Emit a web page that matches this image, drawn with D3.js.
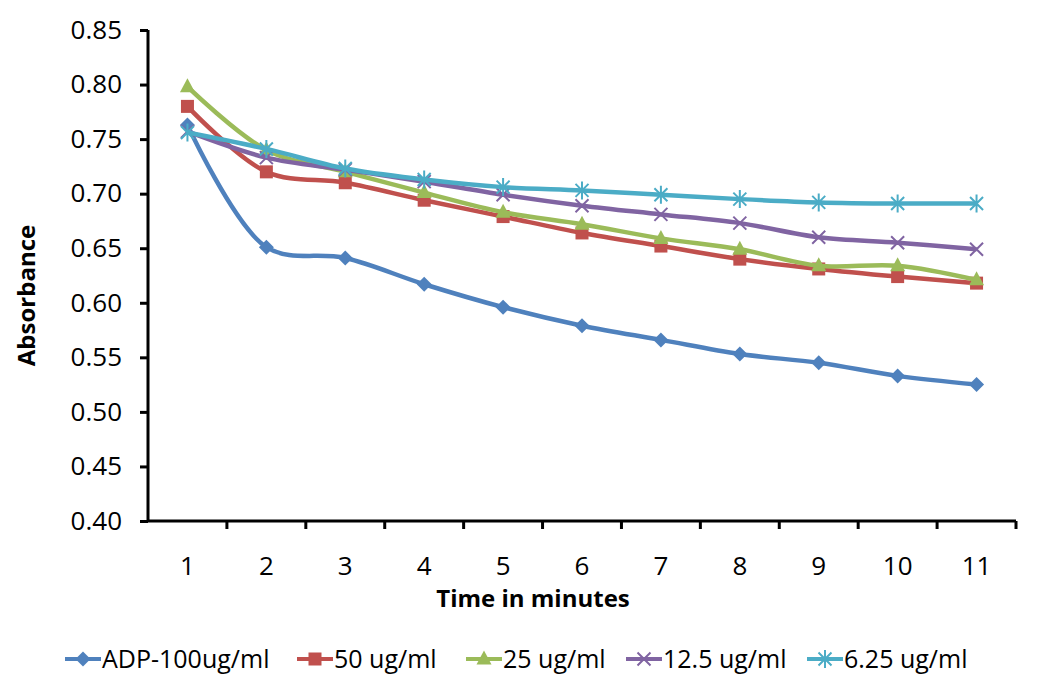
<!DOCTYPE html>
<html>
<head>
<meta charset="utf-8">
<script src="https://cdn.jsdelivr.net/npm/d3@7"></script>
<style>
  body { margin: 0; background: #fff; }
  svg text { font-family: "Open Sans", "Noto Sans", sans-serif; fill: #000; }
</style>
</head>
<body>
<svg id="chart" width="1058" height="691"></svg>
<script>
const minutes = [1, 2, 3, 4, 5, 6, 7, 8, 9, 10, 11];
const seriesNames = ['ADP-100ug/ml', '50 ug/ml', '25 ug/ml', '12.5 ug/ml', '6.25 ug/ml'];
const adp100 = [0.763, 0.651, 0.641, 0.617, 0.596, 0.579, 0.566, 0.553, 0.545, 0.533, 0.525];
const ug50 = [0.780, 0.720, 0.710, 0.694, 0.679, 0.664, 0.652, 0.640, 0.631, 0.624, 0.618];
const ug25 = [0.798, 0.740, 0.720, 0.701, 0.683, 0.672, 0.659, 0.649, 0.634, 0.634, 0.621];
const ug12 = [0.757, 0.733, 0.722, 0.711, 0.699, 0.689, 0.681, 0.673, 0.660, 0.655, 0.649];
const ug6 = [0.756, 0.741, 0.723, 0.713, 0.706, 0.703, 0.699, 0.695, 0.692, 0.691, 0.691];
const yTicks = [0.40, 0.45, 0.50, 0.55, 0.60, 0.65, 0.70, 0.75, 0.80, 0.85];

const colors = ['#4F81BD', '#C0504D', '#9BBB59', '#8064A2', '#4BACC6'];
const markers = ['diamond', 'square', 'triangle', 'cross', 'star'];
const series = [adp100, ug50, ug25, ug12, ug6].map((vals, i) => ({
  name: seriesNames[i], color: colors[i], marker: markers[i],
  values: vals.map((v, j) => ({ t: minutes[j], v }))
}));

const svg = d3.select('#chart');
const margin = { top: 30, right: 42, bottom: 170, left: 148 };
const width = 1058, height = 691;

const x = d3.scaleBand()
  .domain(minutes)
  .range([margin.left, width - margin.right]);

const y = d3.scaleLinear()
  .domain([0.40, 0.85])
  .range([height - margin.bottom, margin.top]);

// y axis
const yAxis = svg.append('g')
  .attr('transform', `translate(${margin.left},0)`)
  .call(d3.axisLeft(y).tickValues(yTicks).tickFormat(d3.format('.2f')).tickSize(8).tickPadding(18));
yAxis.select('.domain').attr('stroke-width', 3).attr('d', `M0,${y(0.85)}V${y(0.40)}`);
yAxis.selectAll('.tick line').attr('stroke-width', 3);
yAxis.selectAll('.tick text').style('font-size', '26px');

// x axis
const xAxis = svg.append('g')
  .attr('transform', `translate(0,${y(0.40)})`)
  .call(d3.axisBottom(x).tickSize(0).tickPadding(36));
xAxis.select('.domain').attr('stroke-width', 3).attr('d', `M${margin.left},0H${width - margin.right}`);
xAxis.selectAll('.tick text').style('font-size', '26px');
xAxis.selectAll('.boundary')
  .data(minutes)
  .enter()
  .append('line')
  .attr('x1', d => x(d) + x.bandwidth())
  .attr('x2', d => x(d) + x.bandwidth())
  .attr('y1', 0)
  .attr('y2', 8)
  .attr('stroke', '#000')
  .attr('stroke-width', 3);

// axis titles
svg.append('text')
  .attr('x', 533)
  .attr('y', 607)
  .attr('text-anchor', 'middle')
  .style('font-size', '24px')
  .style('font-weight', 'bold')
  .text('Time in minutes');

svg.append('text')
  .attr('transform', `translate(35,${(y(0.40) + y(0.85)) / 2 + 20}) rotate(-90)`)
  .attr('text-anchor', 'middle')
  .style('font-size', '24px')
  .style('font-weight', 'bold')
  .text('Absorbance');

const line = d3.line()
  .x(d => x(d.t) + x.bandwidth() / 2)
  .y(d => y(d.v))
  .curve(d3.curveCatmullRom.alpha(0.5));

function drawMarker(g, type, color) {
  if (type === 'diamond') {
    g.append('path').attr('d', 'M0,-7.5L7.5,0L0,7.5L-7.5,0Z').attr('fill', color);
  } else if (type === 'square') {
    g.append('rect').attr('x', -6.5).attr('y', -6.5).attr('width', 13).attr('height', 13).attr('fill', color);
  } else if (type === 'triangle') {
    g.append('path').attr('d', 'M0,-8.5L7.5,5.5L-7.5,5.5Z').attr('fill', color);
  } else if (type === 'cross') {
    g.append('path').attr('d', 'M-6.5,-6.5L6.5,6.5M-6.5,6.5L6.5,-6.5').attr('stroke', color).attr('stroke-width', 2);
  } else {
    g.append('path').attr('d', 'M-6.5,-6.5L6.5,6.5M-6.5,6.5L6.5,-6.5M0,-9V9').attr('stroke', color).attr('stroke-width', 2);
  }
}

series.forEach(s => {
  svg.append('path')
    .datum(s.values)
    .attr('fill', 'none')
    .attr('stroke', s.color)
    .attr('stroke-width', 4.5)
    .attr('d', line);
  s.values.forEach(d => {
    const g = svg.append('g')
      .attr('transform', `translate(${x(d.t) + x.bandwidth() / 2},${y(d.v)})`);
    drawMarker(g, s.marker, s.color);
  });
});

// legend
const legendX = [65, 297, 466, 626, 807];
series.forEach((s, i) => {
  const g = svg.append('g').attr('transform', `translate(${legendX[i]},659)`);
  g.append('line').attr('x1', 0).attr('x2', 36).attr('stroke', s.color).attr('stroke-width', 4);
  const m = g.append('g').attr('transform', 'translate(18,0)');
  drawMarker(m, s.marker, s.color);
  g.append('text')
    .attr('x', 37)
    .attr('dy', '0.35em')
    .style('font-size', '25px')
    .text(s.name);
});
</script>
</body>
</html>
